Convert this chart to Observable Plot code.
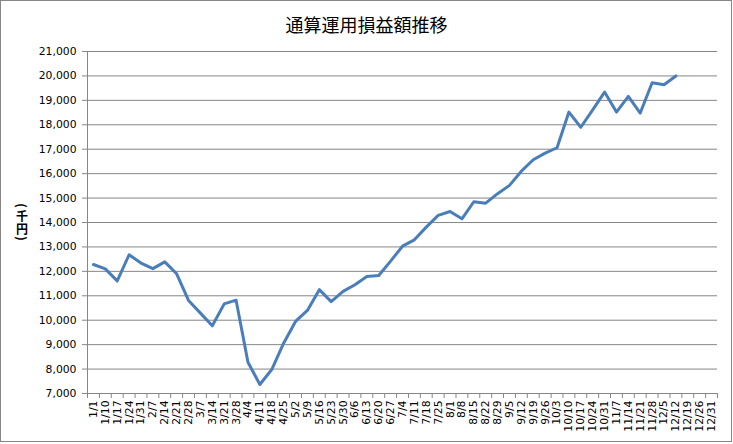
<!DOCTYPE html>
<html>
<head>
<meta charset="utf-8">
<script src="https://cdn.jsdelivr.net/npm/d3@7"></script>
<script src="https://cdn.jsdelivr.net/npm/@observablehq/plot@0.6"></script>
<style>
  body { margin: 0; background: #fff; }
  #wrap { position: relative; width: 733px; height: 444px; overflow: hidden; }
  #wrap svg { position: absolute; left: 0; top: 0; }
  #frame { position: absolute; left: 0; top: 0; width: 732px; height: 442px; box-sizing: border-box; border: 1px solid #868686; pointer-events: none; }
  #title { position: absolute; left: 0; top: 11px; width: 733px; text-align: center; font: 18px "Noto Sans CJK JP", sans-serif; color: #000; }
  #ylabel { position: absolute; left: 14px; top: 202px; width: 16px; text-align: center; font: bold 12px "Noto Sans CJK JP", sans-serif; color: #000; }
  #ylabel div { height: 13px; line-height: 13px; }
  #ylabel div.p { height: 7px; line-height: 7px; }
  #ylabel div.p span { display: inline-block; transform: rotate(90deg); }
</style>
</head>
<body>
<div id="wrap">
  <div id="title">通算運用損益額推移</div>
  <div id="ylabel"><div class="p"><span>(</span></div><div>千</div><div>円</div><div class="p"><span>)</span></div></div>
  <div id="frame"></div>
</div>
<script>
const categories = ["1/1","1/10","1/17","1/24","1/31","2/7","2/14","2/21","2/28","3/7","3/14","3/21","3/28","4/4","4/11","4/18","4/25","5/2","5/9","5/16","5/23","5/30","6/6","6/13","6/20","6/27","7/4","7/11","7/18","7/25","8/1","8/8","8/15","8/22","8/29","9/5","9/12","9/19","9/26","10/3","10/10","10/17","10/24","10/31","11/7","11/14","11/21","11/28","12/5","12/12","12/19","12/26","12/31"];
const values = [12280,12100,11610,12680,12340,12110,12390,11900,10810,10290,9770,10670,10820,8280,7370,7980,9060,9950,10400,11250,10760,11180,11450,11790,11830,12420,13030,13290,13810,14290,14450,14150,14850,14790,15180,15520,16100,16570,16840,17060,18520,17900,18610,19340,18520,19160,18480,19720,19640,20000,null,null,null];
const yTicks = [7000,8000,9000,10000,11000,12000,13000,14000,15000,16000,17000,18000,19000,20000,21000];

const n = categories.length;
const data = categories.map((c, i) => ({pos: i + 0.5, label: c, value: values[i]})).filter(d => d.value != null);
const gridColor = "#868686";

const chart = Plot.plot({
  width: 733,
  height: 444,
  marginLeft: 87,
  marginRight: 16,
  marginTop: 51,
  marginBottom: 51,
  style: {fontFamily: "'DejaVu Sans', sans-serif", fontSize: "10.8px", color: "#000", background: "transparent"},
  x: {type: "linear", domain: [0, n], axis: null, label: null},
  y: {domain: [7000, 21000], axis: null, label: null},
  marks: [
    Plot.gridY({ticks: yTicks, stroke: gridColor, strokeOpacity: 1}),
    Plot.ruleX([0], {stroke: gridColor}),
    Plot.axisY({ticks: yTicks, tickFormat: d3.format(","), tickSize: 5, tickPadding: 6, stroke: gridColor, fill: "#000", label: null}),
    Plot.axisX({ticks: d3.range(n + 1), tickFormat: () => "", tickSize: 5, stroke: gridColor, label: null}),
    Plot.axisX({ticks: d3.range(n).map(i => i + 0.5), tickFormat: d => categories[Math.round(d - 0.5)], tickSize: 0, tickPadding: 7, tickRotate: -90, fill: "#000", label: null}),
    Plot.line(data, {x: "pos", y: "value", stroke: "#4A7EBB", strokeWidth: 3, strokeLinejoin: "round", strokeLinecap: "round"})
  ]
});
document.getElementById("wrap").insertBefore(chart, document.getElementById("title"));
</script>
</body>
</html>
